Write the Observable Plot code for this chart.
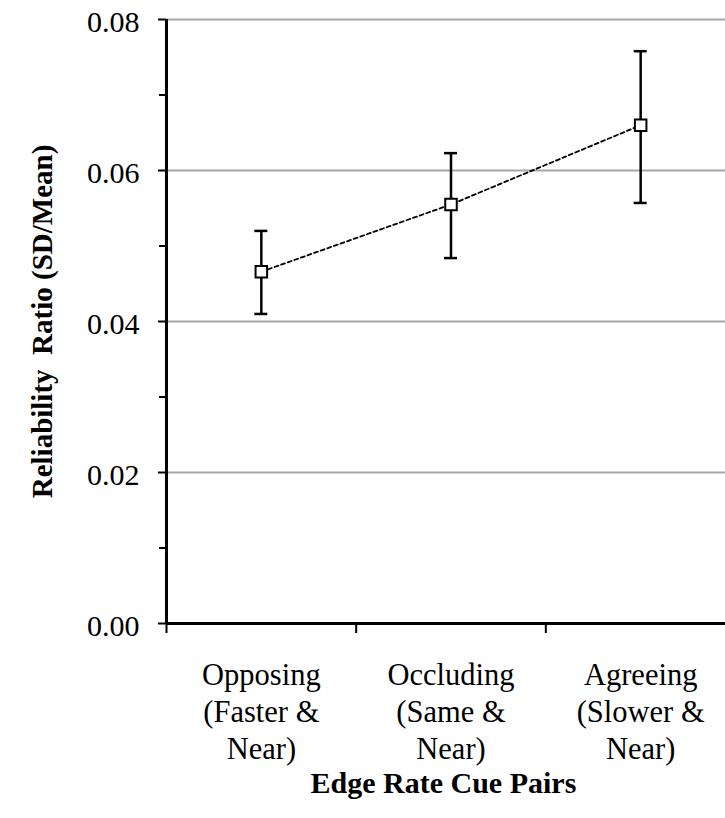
<!DOCTYPE html>
<html><head><meta charset="utf-8">
<script src="https://cdn.jsdelivr.net/npm/d3@7"></script>
<script src="https://cdn.jsdelivr.net/npm/@observablehq/plot@0.6"></script>
<style>body{margin:0;background:#fff}</style>
</head><body><div id="chart"></div>
<script>
const categories = ["Opposing\n(Faster &\nNear)", "Occluding\n(Same &\nNear)", "Agreeing\n(Slower &\nNear)"];
const means = [0.0466, 0.0555, 0.0660];
const lower = [0.0410, 0.0484, 0.0557];
const upper = [0.0520, 0.0623, 0.0758];
const majorTicks = [0, 0.02, 0.04, 0.06, 0.08];
const minorTicks = [0.01, 0.03, 0.05, 0.07];
const gridTicks = [0.02, 0.04, 0.06, 0.08];
const yTitle = "Reliability  Ratio (SD/Mean)";
const xTitle = "Edge Rate Cue Pairs";

const data = categories.map((c, i) => ({cat: c, pos: i + 0.5, mean: means[i], lo: lower[i], hi: upper[i]}));
const boundaries = d3.range(categories.length + 1);
const font = "'Liberation Serif', 'Times New Roman', serif";

const chart = Plot.plot({
  width: 725,
  height: 818,
  marginTop: 19,
  marginBottom: 195,
  marginLeft: 166,
  marginRight: -10,
  style: {fontFamily: font, fontSize: "30px", background: "white", color: "black"},
  x: {type: "linear", domain: [0, categories.length], axis: null, label: null},
  y: {domain: [0, 0.08], axis: null, label: null},
  marks: [
    Plot.ruleY(gridTicks, {stroke: "#a6a6a6", strokeWidth: 2}),
    Plot.axisY(majorTicks, {tickSize: 8, text: null, label: null, strokeWidth: 2, stroke: "black"}),
    Plot.axisY(minorTicks, {tickSize: 7, text: null, label: null, strokeWidth: 2, stroke: "black"}),
    Plot.axisY(majorTicks, {tickSize: 0, tickPadding: 27, label: null, tickFormat: d3.format(".2f"), fontSize: 30, dy: 3, fill: "black"}),
    Plot.axisX(boundaries, {tickSize: 10, text: null, label: null, strokeWidth: 2, stroke: "black"}),
    Plot.ruleX([0], {strokeWidth: 3, stroke: "black"}),
    Plot.ruleY([0], {strokeWidth: 3, stroke: "black"}),
    Plot.text(data, {x: "pos", text: "cat", frameAnchor: "bottom", lineAnchor: "top", dy: 35, lineHeight: 1.22, fontSize: 30.5, fill: "black"}),
    Plot.line(data, {x: "pos", y: "mean", stroke: "black", strokeWidth: 1.8, strokeDasharray: "4,3"}),
    Plot.ruleX(data, {x: "pos", y1: "lo", y2: "hi", stroke: "black", strokeWidth: 2.5}),
    Plot.ruleY(data, {y: "lo", x1: "pos", x2: "pos", insetLeft: -6.5, insetRight: -6.5, stroke: "black", strokeWidth: 2.5}),
    Plot.ruleY(data, {y: "hi", x1: "pos", x2: "pos", insetLeft: -6.5, insetRight: -6.5, stroke: "black", strokeWidth: 2.5}),
    Plot.dot(data, {x: "pos", y: "mean", symbol: "square", r: 6.5, fill: "white", stroke: "black", strokeWidth: 2}),
    Plot.text([yTitle], {frameAnchor: "left", dx: -124, rotate: -90, textAnchor: "middle", lineAnchor: "middle", fontWeight: "bold", fontSize: 29, fill: "black"}),
    Plot.text([xTitle], {frameAnchor: "bottom", dy: 160, textAnchor: "middle", lineAnchor: "middle", fontWeight: "bold", fontSize: 30, fill: "black", x: () => categories.length / 2 - 0.04})
  ]
});
document.getElementById("chart").appendChild(chart);
</script>
</body></html>
